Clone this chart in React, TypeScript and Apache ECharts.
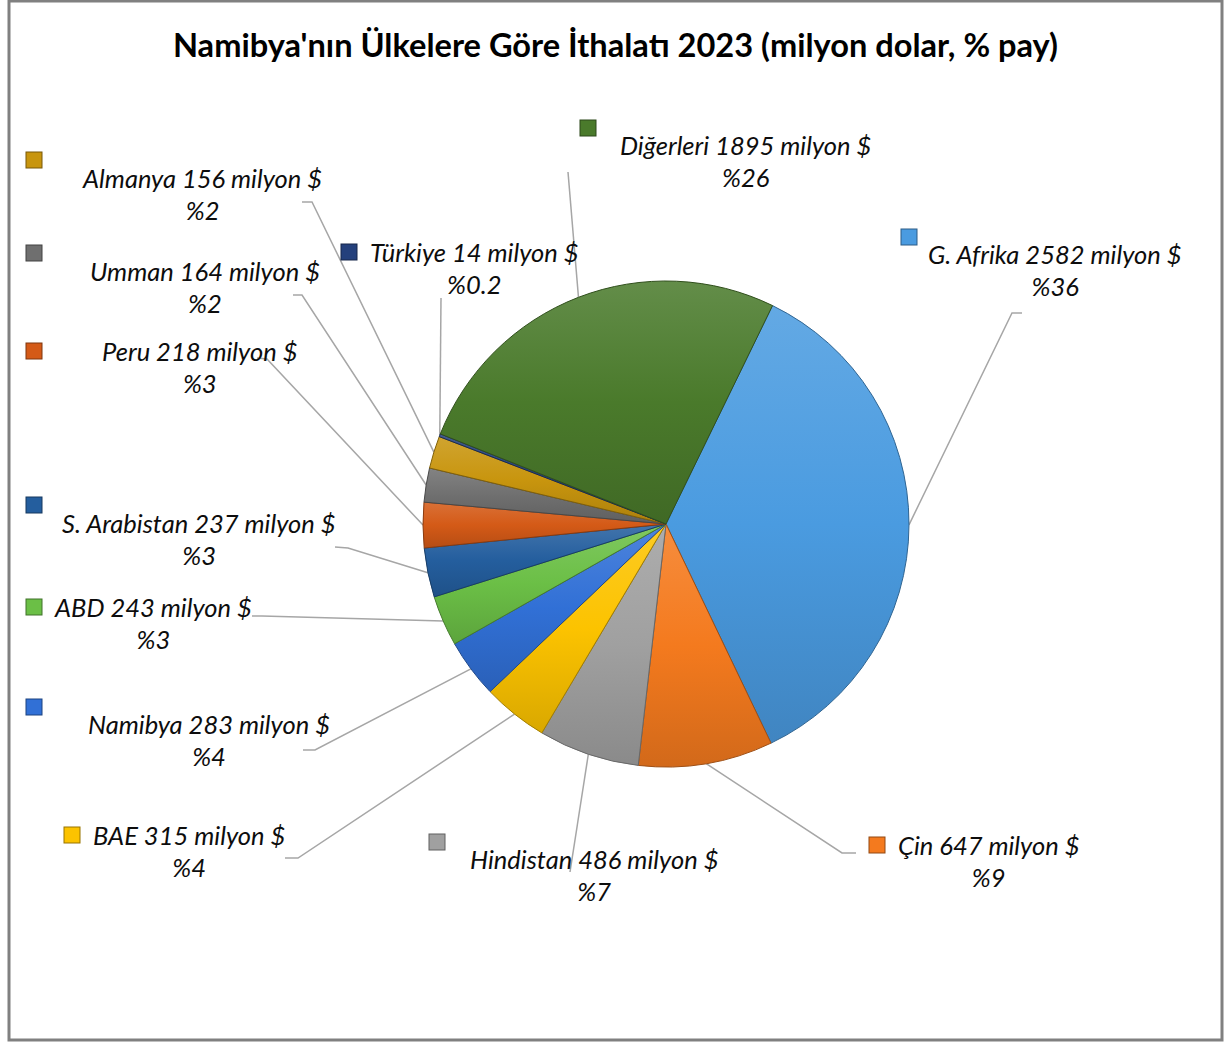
import React, { useEffect, useRef } from 'react';
import * as echarts from 'echarts';

const titleText = "Namibya'nın Ülkelere Göre İthalatı 2023 (milyon dolar, % pay)";
const countries = ['G. Afrika', 'Çin', 'Hindistan', 'BAE', 'Namibya', 'ABD', 'S. Arabistan', 'Peru', 'Umman', 'Almanya', 'Türkiye', 'Diğerleri'];
const importsMn = [2582, 647, 486, 315, 283, 243, 237, 218, 164, 156, 14, 1895];
const shareLabels = ['%36', '%9', '%7', '%4', '%4', '%3', '%3', '%3', '%2', '%2', '%0.2', '%26'];
const sliceColors = ['#4a9be0', '#f47a1e', '#a0a0a0', '#fcc300', '#3170d6', '#6bbf46', '#245e9e', '#d45a17', '#6f6f6f', '#c8950e', '#24407c', '#4a7a2b'];

// label placement: legend key centre (sx, sy), name left edge nx, name line centre ny,
// inline key or key above; leader line bend and end points
const labelPlace = [
  { sx: 909, sy: 237, nx: 928, ny: 254, inline: false, bend: [1012, 313], end: [1022, 313] },
  { sx: 877, sy: 845, nx: 898, ny: 845, inline: true, bend: [842, 853], end: [856, 853] },
  { sx: 437, sy: 842, nx: 470, ny: 859, inline: false, bend: [570, 872], end: [570, 872] },
  { sx: 72, sy: 834, nx: 93, ny: 835, inline: true, bend: [298, 858], end: [285, 858] },
  { sx: 34, sy: 707, nx: 88, ny: 724, inline: false, bend: [315, 750], end: [303, 750] },
  { sx: 34, sy: 607, nx: 55, ny: 607, inline: true, bend: [262, 616], end: [252, 616] },
  { sx: 34, sy: 505, nx: 62, ny: 523, inline: false, bend: [348, 548], end: [335, 547] },
  { sx: 34, sy: 350, nx: 102, ny: 351, inline: true, bend: [267, 359], end: [257, 358] },
  { sx: 34, sy: 253, nx: 90, ny: 271, inline: false, bend: [302, 295], end: [293, 295] },
  { sx: 34, sy: 160, nx: 83, ny: 178, inline: false, bend: [312, 202], end: [302, 202] },
  { sx: 349, sy: 251, nx: 370, ny: 252, inline: true, bend: [441, 298], end: [441, 298] },
  { sx: 588, sy: 128, nx: 620, ny: 145, inline: false, bend: [568, 172], end: [568, 172] },
];

const FONT = 'Lato';
const LABEL_SIZE = 25.5;
const LINE_H = 32;
const KEY = 15;

function shade(hex: string, amt: number): string {
  const n = parseInt(hex.slice(1), 16);
  let r = (n >> 16) & 255, g = (n >> 8) & 255, b = n & 255;
  if (amt >= 0) {
    r = Math.round(r + (255 - r) * amt); g = Math.round(g + (255 - g) * amt); b = Math.round(b + (255 - b) * amt);
  } else {
    r = Math.round(r * (1 + amt)); g = Math.round(g * (1 + amt)); b = Math.round(b * (1 + amt));
  }
  return '#' + ((1 << 24) + (r << 16) + (g << 8) + b).toString(16).slice(1);
}

function firstLineH(i: number): number {
  const p = labelPlace[i];
  return Math.max(2, 2 * (p.ny - p.sy - LINE_H / 2));
}

function keyTop(i: number): number {
  const p = labelPlace[i];
  if (p.inline) return p.ny - LINE_H / 2;
  return p.sy - firstLineH(i) / 2;
}

function buildData() {
  return countries.map((name, i) => {
    const p = labelPlace[i];
    const c = sliceColors[i];
    const textStyle = { fontFamily: FONT, fontSize: LABEL_SIZE, fontStyle: 'italic', color: '#0d0d0d', lineHeight: LINE_H };
    const l1 = firstLineH(i);
    const boxLeft = p.sx - KEY / 2;
    const rich: any = {
      sq: { width: KEY, height: KEY, backgroundColor: c, borderColor: shade(c, -0.4), borderWidth: 1, align: 'left', lineHeight: p.inline ? LINE_H : l1 },
      g: { width: p.inline ? p.nx - (p.sx + KEY / 2) : p.nx - boxLeft, height: 1, align: 'left', lineHeight: LINE_H },
      p: { width: p.nx - boxLeft, height: 1, align: 'left', lineHeight: LINE_H },
      name: { ...textStyle, align: 'left' },
      pct: { ...textStyle, align: 'center' },
    };
    const txt = `${name} ${importsMn[i]} milyon $`;
    const formatter = p.inline
      ? `{sq|}{g|}{name|${txt}}\n{p|}{pct|${shareLabels[i]}}`
      : `{sq|}\n{g|}{name|${txt}}\n{g|}{pct|${shareLabels[i]}}`;
    return {
      name,
      value: importsMn[i],
      itemStyle: {
        color: new echarts.graphic.LinearGradient(0, 0, 0, 1, [
          { offset: 0, color: shade(c, 0.14) },
          { offset: 0.5, color: c },
          { offset: 1, color: shade(c, -0.14) },
        ]),
        borderColor: shade(c, -0.35),
        borderWidth: 1,
      },
      label: { formatter, rich },
    };
  });
}

export default function App() {
  const ref = useRef<HTMLDivElement>(null);
  useEffect(() => {
    if (!ref.current) return;
    const chart = echarts.init(ref.current, null, { renderer: 'svg' });
    const option: any = {
      animation: false,
      backgroundColor: '#ffffff',
      title: {
        text: titleText,
        left: 'center',
        top: 23,
        textStyle: { fontFamily: FONT, fontWeight: 'bold', fontSize: 32.6, color: '#000000' },
      },
      graphic: [
        {
          type: 'rect',
          shape: { x: 9, y: 1, width: 1213, height: 1039 },
          style: { fill: 'none', stroke: '#808080', lineWidth: 3 },
          silent: true,
        },
      ],
      series: [
        {
          type: 'pie',
          center: [666, 524],
          radius: 243,
          startAngle: 64,
          clockwise: true,
          avoidLabelOverlap: false,
          emphasis: { disabled: true },
          label: { show: true, position: 'outside', fontFamily: FONT, fontSize: LABEL_SIZE, fontStyle: 'italic', color: '#0d0d0d' },
          labelLine: { show: true, smooth: false, lineStyle: { color: '#a6a6a6', width: 1.5 } },
          labelLayout: (params: any) => {
            const i = params.dataIndex;
            const p = labelPlace[i];
            const res: any = { x: p.sx - KEY / 2, y: keyTop(i), align: 'left', verticalAlign: 'top' };
            const pts = params.labelLinePoints;
            if (pts && pts[0]) {
              res.labelLinePoints = [[pts[0][0], pts[0][1]], p.bend, p.end];
            }
            return res;
          },
          data: buildData(),
        },
      ],
    };
    chart.setOption(option);
    return () => chart.dispose();
  }, []);
  return <div ref={ref} style={{ position: 'absolute', left: 0, top: 0, width: 1231, height: 1043 }} />;
}
